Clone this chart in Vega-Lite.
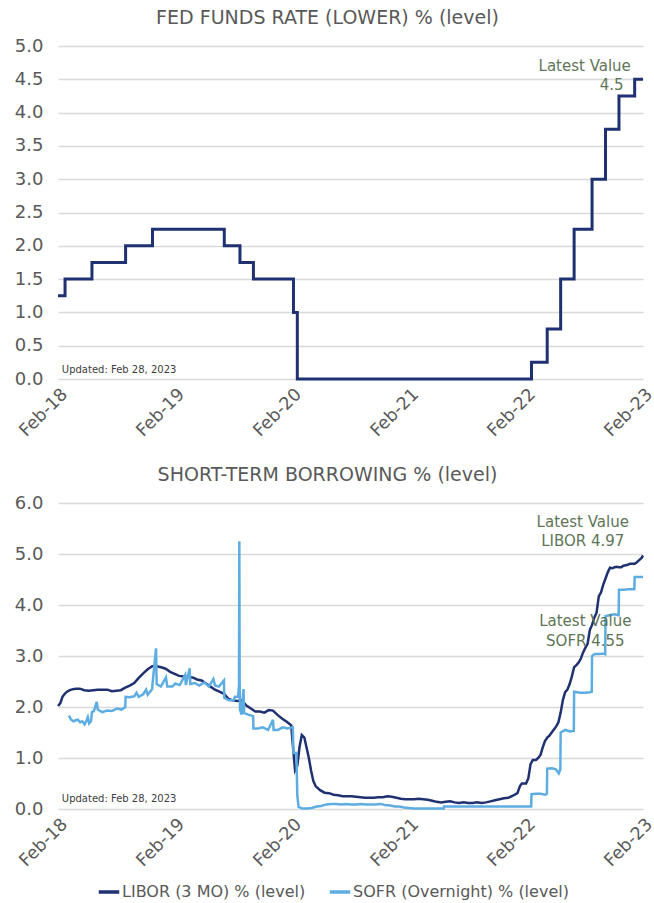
{
  "$schema": "https://vega.github.io/schema/vega-lite/v6.json",
  "background": "white",
  "padding": {"left": 8, "right": 11, "top": 9, "bottom": 2},
  "spacing": 26,
  "config": {
    "font": "DejaVu Sans",
    "view": {"stroke": null},
    "axis": {"labelFont": "DejaVu Sans", "labelColor": "#595959", "labelFontSize": 18, "ticks": false, "domain": false, "title": null, "gridColor": "#D9D9D9", "gridWidth": 1.5},
    "axisY": {"labelPadding": 15, "minExtent": 50, "maxExtent": 50},
    "axisX": {"labelAngle": -45, "labelPadding": 6, "grid": false, "labelFontSize": 17.5},
    "title": {"font": "DejaVu Sans", "fontSize": 19, "fontWeight": "normal", "color": "#595959", "offset": 9, "dx": -23},
    "legend": {"orient": "none", "legendX": 39, "legendY": 834, "direction": "horizontal", "title": null, "labelFont": "DejaVu Sans", "labelFontSize": 16, "labelColor": "#595959", "labelLimit": 0, "symbolType": "stroke", "symbolStrokeWidth": 3.5, "symbolSize": 420, "columnPadding": 16, "labelOffset": 1}
  },
  "datasets": {
    "fed": [
      {"date": "2018-02-28", "value": 1.25},
      {"date": "2018-03-22", "value": 1.5},
      {"date": "2018-06-14", "value": 1.75},
      {"date": "2018-09-27", "value": 2.0},
      {"date": "2018-12-20", "value": 2.25},
      {"date": "2019-08-01", "value": 2.0},
      {"date": "2019-09-19", "value": 1.75},
      {"date": "2019-10-31", "value": 1.5},
      {"date": "2020-03-04", "value": 1.0},
      {"date": "2020-03-16", "value": 0.0},
      {"date": "2022-03-17", "value": 0.25},
      {"date": "2022-05-05", "value": 0.75},
      {"date": "2022-06-16", "value": 1.5},
      {"date": "2022-07-28", "value": 2.25},
      {"date": "2022-09-22", "value": 3.0},
      {"date": "2022-11-03", "value": 3.75},
      {"date": "2022-12-15", "value": 4.25},
      {"date": "2023-02-02", "value": 4.5},
      {"date": "2023-02-28", "value": 4.5}
    ],
    "notesTop": [
      {"date": "2022-08-30", "value": 4.70, "label": "Latest Value"},
      {"date": "2022-11-22", "value": 4.41, "label": "4.5"}
    ],
    "updTop": [
      {"date": "2018-03-12", "value": 0.13, "label": "Updated: Feb 28, 2023"}
    ],
    "notesBottom": [
      {"date": "2022-08-24", "value": 5.63, "label": "Latest Value"},
      {"date": "2022-08-24", "value": 5.25, "label": "LIBOR 4.97"},
      {"date": "2022-09-01", "value": 3.69, "label": "Latest Value"},
      {"date": "2022-09-01", "value": 3.29, "label": "SOFR 4.55"}
    ],
    "updBottom": [
      {"date": "2018-03-12", "value": 0.2, "label": "Updated: Feb 28, 2023"}
    ],
    "libor": [
      {"date": "2018-02-28", "value": 2.02},
      {"date": "2018-03-07", "value": 2.07},
      {"date": "2018-03-14", "value": 2.20},
      {"date": "2018-03-21", "value": 2.26},
      {"date": "2018-03-28", "value": 2.30},
      {"date": "2018-04-06", "value": 2.33},
      {"date": "2018-04-16", "value": 2.35},
      {"date": "2018-04-25", "value": 2.36},
      {"date": "2018-05-07", "value": 2.36},
      {"date": "2018-05-21", "value": 2.33},
      {"date": "2018-06-04", "value": 2.32},
      {"date": "2018-06-18", "value": 2.33},
      {"date": "2018-07-02", "value": 2.34},
      {"date": "2018-07-16", "value": 2.34},
      {"date": "2018-08-01", "value": 2.34},
      {"date": "2018-08-15", "value": 2.31},
      {"date": "2018-08-29", "value": 2.32},
      {"date": "2018-09-12", "value": 2.33},
      {"date": "2018-09-26", "value": 2.38},
      {"date": "2018-10-10", "value": 2.42},
      {"date": "2018-10-24", "value": 2.47},
      {"date": "2018-11-07", "value": 2.57},
      {"date": "2018-11-21", "value": 2.66},
      {"date": "2018-12-05", "value": 2.74},
      {"date": "2018-12-19", "value": 2.80},
      {"date": "2019-01-02", "value": 2.80},
      {"date": "2019-01-16", "value": 2.78},
      {"date": "2019-01-30", "value": 2.75},
      {"date": "2019-02-13", "value": 2.69},
      {"date": "2019-02-27", "value": 2.65},
      {"date": "2019-03-13", "value": 2.61},
      {"date": "2019-03-27", "value": 2.60},
      {"date": "2019-04-10", "value": 2.59},
      {"date": "2019-04-24", "value": 2.58},
      {"date": "2019-05-08", "value": 2.54},
      {"date": "2019-05-22", "value": 2.52},
      {"date": "2019-06-05", "value": 2.46},
      {"date": "2019-06-19", "value": 2.40},
      {"date": "2019-07-03", "value": 2.34},
      {"date": "2019-07-17", "value": 2.30},
      {"date": "2019-07-31", "value": 2.26},
      {"date": "2019-08-14", "value": 2.16},
      {"date": "2019-08-28", "value": 2.13},
      {"date": "2019-09-11", "value": 2.12},
      {"date": "2019-09-25", "value": 2.13},
      {"date": "2019-10-09", "value": 2.03},
      {"date": "2019-10-23", "value": 1.97},
      {"date": "2019-11-06", "value": 1.91},
      {"date": "2019-11-20", "value": 1.91},
      {"date": "2019-12-04", "value": 1.89},
      {"date": "2019-12-18", "value": 1.94},
      {"date": "2019-12-31", "value": 1.93},
      {"date": "2020-01-15", "value": 1.84},
      {"date": "2020-01-29", "value": 1.77},
      {"date": "2020-02-12", "value": 1.71},
      {"date": "2020-02-26", "value": 1.64},
      {"date": "2020-03-02", "value": 1.25},
      {"date": "2020-03-09", "value": 0.76},
      {"date": "2020-03-16", "value": 0.85},
      {"date": "2020-03-23", "value": 1.22},
      {"date": "2020-03-30", "value": 1.45},
      {"date": "2020-04-07", "value": 1.40},
      {"date": "2020-04-14", "value": 1.20},
      {"date": "2020-04-21", "value": 1.00},
      {"date": "2020-04-28", "value": 0.75},
      {"date": "2020-05-05", "value": 0.55},
      {"date": "2020-05-12", "value": 0.45},
      {"date": "2020-05-26", "value": 0.37},
      {"date": "2020-06-09", "value": 0.32},
      {"date": "2020-06-23", "value": 0.31},
      {"date": "2020-07-07", "value": 0.28},
      {"date": "2020-07-21", "value": 0.27},
      {"date": "2020-08-04", "value": 0.25},
      {"date": "2020-08-18", "value": 0.25},
      {"date": "2020-09-01", "value": 0.25},
      {"date": "2020-09-15", "value": 0.24},
      {"date": "2020-09-29", "value": 0.23},
      {"date": "2020-10-13", "value": 0.22},
      {"date": "2020-10-27", "value": 0.22},
      {"date": "2020-11-10", "value": 0.22},
      {"date": "2020-11-24", "value": 0.23},
      {"date": "2020-12-08", "value": 0.23},
      {"date": "2020-12-22", "value": 0.25},
      {"date": "2021-01-05", "value": 0.24},
      {"date": "2021-01-19", "value": 0.22},
      {"date": "2021-02-02", "value": 0.20},
      {"date": "2021-02-16", "value": 0.19},
      {"date": "2021-03-02", "value": 0.19},
      {"date": "2021-03-16", "value": 0.19},
      {"date": "2021-03-30", "value": 0.20},
      {"date": "2021-04-13", "value": 0.19},
      {"date": "2021-04-27", "value": 0.18},
      {"date": "2021-05-11", "value": 0.16},
      {"date": "2021-05-25", "value": 0.14},
      {"date": "2021-06-08", "value": 0.13},
      {"date": "2021-06-22", "value": 0.14},
      {"date": "2021-07-06", "value": 0.15},
      {"date": "2021-07-20", "value": 0.13},
      {"date": "2021-08-03", "value": 0.12},
      {"date": "2021-08-17", "value": 0.13},
      {"date": "2021-08-31", "value": 0.12},
      {"date": "2021-09-14", "value": 0.12},
      {"date": "2021-09-28", "value": 0.13},
      {"date": "2021-10-12", "value": 0.12},
      {"date": "2021-10-26", "value": 0.13},
      {"date": "2021-11-09", "value": 0.15},
      {"date": "2021-11-23", "value": 0.17},
      {"date": "2021-12-07", "value": 0.19},
      {"date": "2021-12-21", "value": 0.21},
      {"date": "2022-01-04", "value": 0.22},
      {"date": "2022-01-18", "value": 0.26},
      {"date": "2022-02-01", "value": 0.31},
      {"date": "2022-02-09", "value": 0.45},
      {"date": "2022-02-15", "value": 0.50},
      {"date": "2022-02-28", "value": 0.50},
      {"date": "2022-03-07", "value": 0.60},
      {"date": "2022-03-14", "value": 0.88},
      {"date": "2022-03-21", "value": 0.96},
      {"date": "2022-03-31", "value": 0.96},
      {"date": "2022-04-07", "value": 1.00},
      {"date": "2022-04-14", "value": 1.06},
      {"date": "2022-04-21", "value": 1.21},
      {"date": "2022-04-28", "value": 1.33},
      {"date": "2022-05-05", "value": 1.40},
      {"date": "2022-05-12", "value": 1.44},
      {"date": "2022-05-19", "value": 1.50},
      {"date": "2022-05-26", "value": 1.56},
      {"date": "2022-06-02", "value": 1.62},
      {"date": "2022-06-09", "value": 1.70},
      {"date": "2022-06-16", "value": 1.89},
      {"date": "2022-06-23", "value": 2.14},
      {"date": "2022-06-30", "value": 2.29},
      {"date": "2022-07-07", "value": 2.34},
      {"date": "2022-07-14", "value": 2.45},
      {"date": "2022-07-21", "value": 2.60},
      {"date": "2022-07-28", "value": 2.78},
      {"date": "2022-08-04", "value": 2.82},
      {"date": "2022-08-11", "value": 2.87},
      {"date": "2022-08-18", "value": 2.95},
      {"date": "2022-08-25", "value": 3.07},
      {"date": "2022-09-01", "value": 3.16},
      {"date": "2022-09-08", "value": 3.24},
      {"date": "2022-09-15", "value": 3.51},
      {"date": "2022-09-22", "value": 3.61},
      {"date": "2022-09-29", "value": 3.75},
      {"date": "2022-10-06", "value": 3.85},
      {"date": "2022-10-13", "value": 4.17},
      {"date": "2022-10-20", "value": 4.25},
      {"date": "2022-10-27", "value": 4.40},
      {"date": "2022-11-03", "value": 4.52},
      {"date": "2022-11-10", "value": 4.64},
      {"date": "2022-11-17", "value": 4.73},
      {"date": "2022-11-24", "value": 4.72},
      {"date": "2022-12-01", "value": 4.74},
      {"date": "2022-12-08", "value": 4.75},
      {"date": "2022-12-15", "value": 4.74},
      {"date": "2022-12-22", "value": 4.74},
      {"date": "2022-12-29", "value": 4.77},
      {"date": "2023-01-05", "value": 4.78},
      {"date": "2023-01-12", "value": 4.79},
      {"date": "2023-01-19", "value": 4.81},
      {"date": "2023-01-26", "value": 4.81},
      {"date": "2023-02-02", "value": 4.81},
      {"date": "2023-02-09", "value": 4.84},
      {"date": "2023-02-16", "value": 4.88},
      {"date": "2023-02-23", "value": 4.92},
      {"date": "2023-02-28", "value": 4.97}
    ],
    "sofr": [
      {"date": "2018-04-03", "value": 1.83},
      {"date": "2018-04-10", "value": 1.75},
      {"date": "2018-04-17", "value": 1.72},
      {"date": "2018-04-24", "value": 1.74},
      {"date": "2018-05-01", "value": 1.75},
      {"date": "2018-05-08", "value": 1.70},
      {"date": "2018-05-15", "value": 1.72},
      {"date": "2018-05-22", "value": 1.66},
      {"date": "2018-05-29", "value": 1.75},
      {"date": "2018-06-01", "value": 1.80},
      {"date": "2018-06-05", "value": 1.68},
      {"date": "2018-06-11", "value": 1.72},
      {"date": "2018-06-14", "value": 1.90},
      {"date": "2018-06-20", "value": 1.92},
      {"date": "2018-06-29", "value": 2.10},
      {"date": "2018-07-02", "value": 1.95},
      {"date": "2018-07-16", "value": 1.90},
      {"date": "2018-07-31", "value": 1.93},
      {"date": "2018-08-15", "value": 1.92},
      {"date": "2018-08-31", "value": 1.97},
      {"date": "2018-09-14", "value": 1.95},
      {"date": "2018-09-26", "value": 2.00},
      {"date": "2018-09-27", "value": 2.20},
      {"date": "2018-10-10", "value": 2.19},
      {"date": "2018-10-24", "value": 2.21},
      {"date": "2018-10-31", "value": 2.28},
      {"date": "2018-11-07", "value": 2.20},
      {"date": "2018-11-21", "value": 2.25},
      {"date": "2018-11-30", "value": 2.34},
      {"date": "2018-12-05", "value": 2.24},
      {"date": "2018-12-19", "value": 2.35},
      {"date": "2018-12-20", "value": 2.45},
      {"date": "2018-12-31", "value": 3.15},
      {"date": "2019-01-02", "value": 2.45},
      {"date": "2019-01-15", "value": 2.40},
      {"date": "2019-01-31", "value": 2.58},
      {"date": "2019-02-04", "value": 2.40},
      {"date": "2019-02-20", "value": 2.40},
      {"date": "2019-03-01", "value": 2.46},
      {"date": "2019-03-15", "value": 2.43},
      {"date": "2019-04-01", "value": 2.63},
      {"date": "2019-04-03", "value": 2.43},
      {"date": "2019-04-15", "value": 2.76},
      {"date": "2019-04-17", "value": 2.45},
      {"date": "2019-05-01", "value": 2.47},
      {"date": "2019-05-15", "value": 2.42},
      {"date": "2019-05-31", "value": 2.48},
      {"date": "2019-06-14", "value": 2.40},
      {"date": "2019-06-28", "value": 2.55},
      {"date": "2019-07-03", "value": 2.42},
      {"date": "2019-07-15", "value": 2.40},
      {"date": "2019-07-31", "value": 2.52},
      {"date": "2019-08-01", "value": 2.18},
      {"date": "2019-08-15", "value": 2.13},
      {"date": "2019-08-30", "value": 2.13},
      {"date": "2019-09-03", "value": 2.20},
      {"date": "2019-09-13", "value": 2.20},
      {"date": "2019-09-16", "value": 2.43},
      {"date": "2019-09-17", "value": 5.25},
      {"date": "2019-09-18", "value": 2.55},
      {"date": "2019-09-19", "value": 1.95},
      {"date": "2019-09-24", "value": 1.85},
      {"date": "2019-09-30", "value": 2.35},
      {"date": "2019-10-02", "value": 1.88},
      {"date": "2019-10-15", "value": 1.85},
      {"date": "2019-10-30", "value": 1.82},
      {"date": "2019-10-31", "value": 1.58},
      {"date": "2019-11-15", "value": 1.58},
      {"date": "2019-11-29", "value": 1.60},
      {"date": "2019-12-16", "value": 1.55},
      {"date": "2019-12-31", "value": 1.75},
      {"date": "2020-01-02", "value": 1.55},
      {"date": "2020-01-15", "value": 1.55},
      {"date": "2020-01-31", "value": 1.60},
      {"date": "2020-02-14", "value": 1.58},
      {"date": "2020-02-28", "value": 1.60},
      {"date": "2020-03-02", "value": 1.60},
      {"date": "2020-03-04", "value": 1.10},
      {"date": "2020-03-13", "value": 1.10},
      {"date": "2020-03-16", "value": 0.26},
      {"date": "2020-03-20", "value": 0.04},
      {"date": "2020-03-31", "value": 0.01},
      {"date": "2020-04-15", "value": 0.01},
      {"date": "2020-04-30", "value": 0.02},
      {"date": "2020-05-15", "value": 0.05},
      {"date": "2020-05-29", "value": 0.06},
      {"date": "2020-06-15", "value": 0.09},
      {"date": "2020-06-30", "value": 0.10},
      {"date": "2020-07-15", "value": 0.10},
      {"date": "2020-07-31", "value": 0.09},
      {"date": "2020-08-14", "value": 0.10},
      {"date": "2020-08-31", "value": 0.09},
      {"date": "2020-09-15", "value": 0.09},
      {"date": "2020-09-30", "value": 0.10},
      {"date": "2020-10-15", "value": 0.09},
      {"date": "2020-10-30", "value": 0.09},
      {"date": "2020-11-13", "value": 0.09},
      {"date": "2020-11-30", "value": 0.10},
      {"date": "2020-12-15", "value": 0.08},
      {"date": "2020-12-31", "value": 0.07},
      {"date": "2021-01-15", "value": 0.05},
      {"date": "2021-01-29", "value": 0.05},
      {"date": "2021-02-12", "value": 0.03},
      {"date": "2021-02-26", "value": 0.02},
      {"date": "2021-03-15", "value": 0.01},
      {"date": "2021-03-31", "value": 0.01},
      {"date": "2021-04-15", "value": 0.01},
      {"date": "2021-04-30", "value": 0.01},
      {"date": "2021-05-14", "value": 0.01},
      {"date": "2021-05-28", "value": 0.01},
      {"date": "2021-06-16", "value": 0.01},
      {"date": "2021-06-17", "value": 0.05},
      {"date": "2021-07-15", "value": 0.05},
      {"date": "2021-08-16", "value": 0.05},
      {"date": "2021-09-15", "value": 0.05},
      {"date": "2021-10-15", "value": 0.05},
      {"date": "2021-11-15", "value": 0.05},
      {"date": "2021-12-15", "value": 0.05},
      {"date": "2022-01-14", "value": 0.05},
      {"date": "2022-02-15", "value": 0.05},
      {"date": "2022-03-16", "value": 0.05},
      {"date": "2022-03-17", "value": 0.29},
      {"date": "2022-03-31", "value": 0.30},
      {"date": "2022-04-14", "value": 0.30},
      {"date": "2022-04-29", "value": 0.28},
      {"date": "2022-05-04", "value": 0.30},
      {"date": "2022-05-05", "value": 0.79},
      {"date": "2022-05-20", "value": 0.80},
      {"date": "2022-06-01", "value": 0.78},
      {"date": "2022-06-10", "value": 0.70},
      {"date": "2022-06-15", "value": 0.78},
      {"date": "2022-06-16", "value": 1.50},
      {"date": "2022-06-30", "value": 1.55},
      {"date": "2022-07-15", "value": 1.52},
      {"date": "2022-07-27", "value": 1.53},
      {"date": "2022-07-28", "value": 2.30},
      {"date": "2022-08-15", "value": 2.28},
      {"date": "2022-08-31", "value": 2.28},
      {"date": "2022-09-15", "value": 2.29},
      {"date": "2022-09-21", "value": 2.30},
      {"date": "2022-09-22", "value": 3.00},
      {"date": "2022-09-30", "value": 3.04},
      {"date": "2022-10-14", "value": 3.04},
      {"date": "2022-10-31", "value": 3.05},
      {"date": "2022-11-02", "value": 3.04},
      {"date": "2022-11-03", "value": 3.78},
      {"date": "2022-11-15", "value": 3.80},
      {"date": "2022-11-30", "value": 3.82},
      {"date": "2022-12-14", "value": 3.80},
      {"date": "2022-12-15", "value": 4.30},
      {"date": "2022-12-30", "value": 4.30},
      {"date": "2023-01-13", "value": 4.31},
      {"date": "2023-02-01", "value": 4.31},
      {"date": "2023-02-02", "value": 4.55},
      {"date": "2023-02-28", "value": 4.55}
    ]
  },
  "vconcat": [
    {
      "width": 585,
      "height": 333,
      "title": {"text": "FED FUNDS RATE (LOWER) % (level)"},
      "encoding": {
        "x": {"field": "date", "type": "temporal",
          "scale": {"type": "utc", "domain": [{"year": 2018, "month": 2, "date": 28, "utc": true}, {"year": 2023, "month": 2, "date": 28, "utc": true}]},
          "axis": {"labelExpr": "utcFormat(datum.value, '%b-%y')", "values": [
            {"year": 2018, "month": 2, "date": 28, "utc": true},
            {"year": 2019, "month": 2, "date": 28, "utc": true},
            {"year": 2020, "month": 2, "date": 28, "utc": true},
            {"year": 2021, "month": 2, "date": 28, "utc": true},
            {"year": 2022, "month": 2, "date": 28, "utc": true},
            {"year": 2023, "month": 2, "date": 28, "utc": true}]}},
        "y": {"field": "value", "type": "quantitative",
          "scale": {"domain": [0, 5], "nice": false},
          "axis": {"values": [0, 0.5, 1, 1.5, 2, 2.5, 3, 3.5, 4, 4.5, 5], "format": ".1f"}}
      },
      "layer": [
        {"data": {"name": "fed"}, "mark": {"type": "line", "interpolate": "step-after", "color": "#1F3170", "strokeWidth": 3}},
        {"data": {"name": "notesTop"}, "mark": {"type": "text", "color": "#5F7557", "fontSize": 15, "baseline": "middle", "align": "center"}, "encoding": {"text": {"field": "label"}}},
        {"data": {"name": "updTop"}, "mark": {"type": "text", "color": "#404040", "fontSize": 10, "baseline": "middle", "align": "left"}, "encoding": {"text": {"field": "label"}}}
      ]
    },
    {
      "width": 585,
      "height": 306,
      "title": {"text": "SHORT-TERM BORROWING % (level)"},
      "encoding": {
        "x": {"field": "date", "type": "temporal",
          "scale": {"type": "utc", "domain": [{"year": 2018, "month": 2, "date": 28, "utc": true}, {"year": 2023, "month": 2, "date": 28, "utc": true}]},
          "axis": {"labelExpr": "utcFormat(datum.value, '%b-%y')", "values": [
            {"year": 2018, "month": 2, "date": 28, "utc": true},
            {"year": 2019, "month": 2, "date": 28, "utc": true},
            {"year": 2020, "month": 2, "date": 28, "utc": true},
            {"year": 2021, "month": 2, "date": 28, "utc": true},
            {"year": 2022, "month": 2, "date": 28, "utc": true},
            {"year": 2023, "month": 2, "date": 28, "utc": true}]}},
        "y": {"field": "value", "type": "quantitative",
          "scale": {"domain": [0, 6], "nice": false},
          "axis": {"values": [0, 1, 2, 3, 4, 5, 6], "format": ".1f"}}
      },
      "layer": [
        {"data": {"name": "libor"}, "mark": {"type": "line", "strokeWidth": 2.5},
          "encoding": {"color": {"datum": "LIBOR (3 MO) % (level)", "type": "nominal",
            "scale": {"domain": ["LIBOR (3 MO) % (level)", "SOFR (Overnight) % (level)"], "range": ["#1F3170", "#5DADE2"]}}}},
        {"data": {"name": "sofr"}, "mark": {"type": "line", "strokeWidth": 2.5},
          "encoding": {"color": {"datum": "SOFR (Overnight) % (level)", "type": "nominal"}}},
        {"data": {"name": "notesBottom"}, "mark": {"type": "text", "color": "#5F7557", "fontSize": 15, "baseline": "middle", "align": "center"}, "encoding": {"text": {"field": "label"}}},
        {"data": {"name": "updBottom"}, "mark": {"type": "text", "color": "#404040", "fontSize": 10, "baseline": "middle", "align": "left"}, "encoding": {"text": {"field": "label"}}}
      ]
    }
  ]
}
